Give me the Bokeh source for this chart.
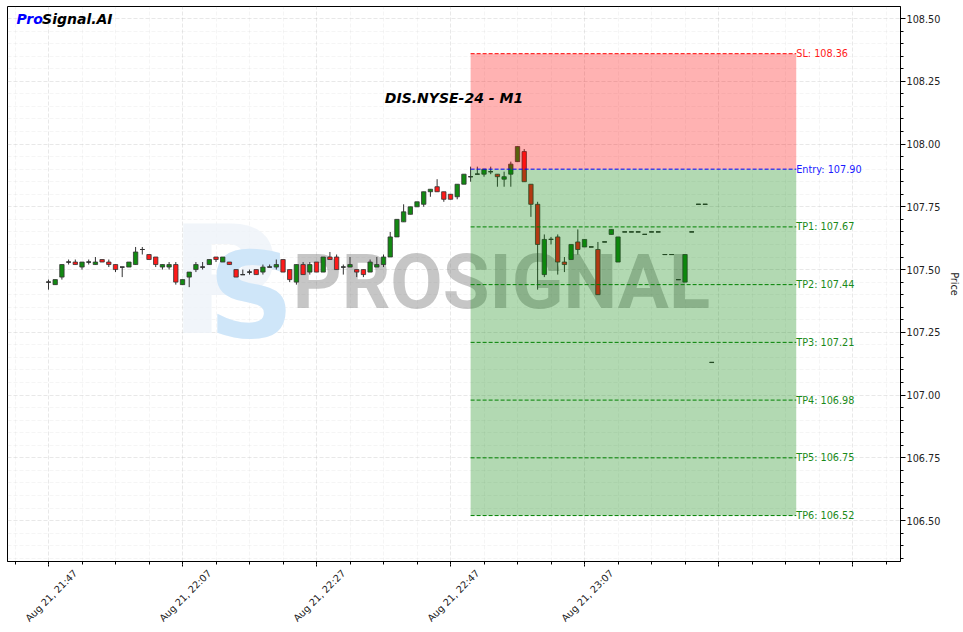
import numpy as np
import pandas as pd
from math import pi
from bokeh.plotting import figure
from bokeh.models import Range1d, FixedTicker, LinearAxis, PrintfTickFormatter
from bokeh.core.properties import value
from bokeh.embed import file_html
from bokeh.resources import INLINE

# ---------------- data ----------------
opens = [107.45, 107.44, 107.47, 107.53, 107.53, 107.51, 107.53, 107.52, 107.54, 107.53,
         107.52, 107.51, 107.51, 107.52, 107.58, 107.56, 107.55, 107.51, 107.51, 107.52,
         107.44, 107.47, 107.50, 107.51, 107.52, 107.55, 107.53, 107.53, 107.50, 107.48,
         107.49, 107.50, 107.49, 107.51, 107.51, 107.54, 107.50, 107.45, 107.52, 107.49,
         107.53, 107.49, 107.55, 107.55, 107.51, 107.51, 107.50, 107.50, 107.49, 107.51,
         107.52, 107.55, 107.63, 107.69, 107.72, 107.75, 107.76, 107.81, 107.83, 107.81,
         107.80, 107.79, 107.84, 107.87, 107.88, 107.88, 107.89, 107.88, 107.86, 107.88,
         107.93, 107.97, 107.84, 107.76, 107.48, 107.62, 107.63, 107.53, 107.54, 107.61,
         107.59, 107.59, 107.58, 107.61, 107.64, 107.53, 107.65, 107.65, 107.65, 107.64,
         107.65, 107.65, 107.56, 107.56, 107.46, 107.45, 107.65, 107.76, 107.76, 107.13]
highs = [107.46, 107.46, 107.52, 107.54, 107.54, 107.53, 107.54, 107.55, 107.54, 107.54,
         107.52, 107.51, 107.53, 107.59, 107.59, 107.56, 107.55, 107.52, 107.53, 107.53,
         107.46, 107.49, 107.53, 107.53, 107.54, 107.55, 107.55, 107.53, 107.50, 107.50,
         107.50, 107.50, 107.52, 107.52, 107.54, 107.54, 107.50, 107.52, 107.53, 107.53,
         107.53, 107.55, 107.57, 107.56, 107.52, 107.55, 107.50, 107.50, 107.54, 107.55,
         107.56, 107.65, 107.70, 107.76, 107.75, 107.77, 107.81, 107.82, 107.86, 107.81,
         107.80, 107.84, 107.88, 107.91, 107.91, 107.90, 107.91, 107.88, 107.89, 107.93,
         107.99, 107.98, 107.84, 107.77, 107.64, 107.63, 107.64, 107.55, 107.60, 107.66,
         107.62, 107.59, 107.61, 107.61, 107.66, 107.63, 107.65, 107.65, 107.65, 107.64,
         107.65, 107.65, 107.56, 107.56, 107.46, 107.56, 107.65, 107.76, 107.76, 107.13]
lows = [107.42, 107.44, 107.46, 107.52, 107.52, 107.50, 107.52, 107.52, 107.53, 107.51,
        107.49, 107.47, 107.51, 107.52, 107.56, 107.54, 107.51, 107.50, 107.50, 107.44,
        107.44, 107.43, 107.49, 107.50, 107.52, 107.53, 107.53, 107.52, 107.47, 107.48,
        107.48, 107.48, 107.48, 107.51, 107.50, 107.49, 107.45, 107.44, 107.48, 107.48,
        107.49, 107.49, 107.54, 107.50, 107.48, 107.51, 107.47, 107.47, 107.49, 107.51,
        107.51, 107.55, 107.63, 107.69, 107.72, 107.75, 107.75, 107.79, 107.81, 107.77,
        107.78, 107.78, 107.84, 107.85, 107.88, 107.87, 107.88, 107.83, 107.83, 107.83,
        107.93, 107.85, 107.71, 107.42, 107.47, 107.60, 107.48, 107.49, 107.54, 107.56,
        107.59, 107.59, 107.40, 107.61, 107.64, 107.53, 107.65, 107.65, 107.65, 107.64,
        107.65, 107.65, 107.56, 107.56, 107.46, 107.45, 107.65, 107.76, 107.76, 107.13]
closes = [107.45, 107.46, 107.52, 107.53, 107.52, 107.53, 107.53, 107.53, 107.53, 107.52,
          107.50, 107.51, 107.53, 107.57, 107.58, 107.54, 107.52, 107.52, 107.52, 107.45,
          107.46, 107.49, 107.52, 107.51, 107.54, 107.54, 107.55, 107.52, 107.47, 107.48,
          107.49, 107.48, 107.51, 107.51, 107.52, 107.49, 107.46, 107.52, 107.48, 107.52,
          107.49, 107.55, 107.54, 107.50, 107.51, 107.52, 107.49, 107.48, 107.53, 107.52,
          107.55, 107.63, 107.70, 107.73, 107.75, 107.77, 107.81, 107.82, 107.81, 107.78,
          107.78, 107.84, 107.88, 107.87, 107.88, 107.90, 107.89, 107.87, 107.87, 107.92,
          107.99, 107.85, 107.76, 107.60, 107.62, 107.62, 107.53, 107.52, 107.60, 107.58,
          107.62, 107.59, 107.40, 107.61, 107.66, 107.63, 107.65, 107.65, 107.65, 107.64,
          107.65, 107.65, 107.56, 107.56, 107.46, 107.56, 107.65, 107.76, 107.76, 107.13]

first_candle = "2024-08-21 21:47"
tick_times = ["2024-08-21 21:47", "2024-08-21 22:07", "2024-08-21 22:27", "2024-08-21 22:47",
              "2024-08-21 23:07", "2024-08-21 23:27", "2024-08-21 23:47"]
tick_labels = ["Aug 21, 21:47", "Aug 21, 22:07", "Aug 21, 22:27", "Aug 21, 22:47",
               "Aug 21, 23:07", "", ""]
price_ticks = [106.50, 106.75, 107.00, 107.25, 107.50, 107.75, 108.00, 108.25, 108.50]

signal_start = "2024-08-21 22:50"
signal_minutes = 48.6
level_names = ["SL", "Entry", "TP1", "TP2", "TP3", "TP4", "TP5", "TP6"]
level_values = [108.36, 107.90, 107.67, 107.44, 107.21, 106.98, 106.75, 106.52]
title_text = "DIS.NYSE-24 - M1"

# ---------------- helpers ----------------
origin = pd.Timestamp("2024-08-21 21:00")
def to_min(ts):
    return (pd.Timestamp(ts) - origin).total_seconds() / 60.0

times = pd.date_range(first_candle, periods=len(opens), freq="min")
xs = np.array([(t - origin).total_seconds() / 60.0 for t in times])
o = np.array(opens); h = np.array(highs); l = np.array(lows); c = np.array(closes)

X0, X1 = 40.88, 174.16
Y0, Y1 = 106.337, 108.548
FW, FH = 893, 555

FONT = value("DejaVu Sans")
p = figure(frame_width=FW, frame_height=FH, x_range=Range1d(X0, X1), y_range=Range1d(Y0, Y1),
           y_axis_location="right", output_backend="svg", toolbar_location=None,
           min_border_left=7, min_border_top=6, min_border_right=0, min_border_bottom=0,
           background_fill_color="white", border_fill_color="white",
           outline_line_color="black", outline_line_width=1)

major_x = [to_min(t) for t in tick_times]
minor_x = list(np.arange(major_x[0] - 5, X1, 5.0))

# axis A (next to frame): short tick marks every 5 minutes, no labels
ax_a = p.xaxis[0]
ax_a.ticker = FixedTicker(ticks=[], minor_ticks=minor_x)
ax_a.axis_line_color = "black"
ax_a.major_tick_out = 3
ax_a.major_tick_in = 0
ax_a.minor_tick_out = 3
ax_a.minor_tick_in = 0
ax_a.major_label_standoff = 0

# axis B: extends the 20-minute ticks and carries the rotated labels,
# centred under their ticks
px_per_min = FW / (X1 - X0)
shift = 27.0 / px_per_min
lab_ticks = [t + shift for t, lab in zip(major_x, tick_labels) if lab]
lab_text = [lab for lab in tick_labels if lab]
ax_b = LinearAxis(ticker=FixedTicker(ticks=lab_ticks, minor_ticks=major_x),
                  major_label_overrides={t: s for t, s in zip(lab_ticks, lab_text)},
                  major_label_orientation=pi / 4, major_label_standoff=5,
                  major_tick_out=0, major_tick_in=0, minor_tick_out=2, minor_tick_in=0,
                  minor_tick_line_color="black",
                  axis_line_color=None, major_label_text_font="DejaVu Sans",
                  major_label_text_font_size="9.7px", major_label_text_color="#222222")
p.add_layout(ax_b, "below")

minor_y = list(np.round(np.arange(106.35, 108.5001, 0.05), 2))
p.yaxis.ticker = FixedTicker(ticks=price_ticks, minor_ticks=minor_y)
p.yaxis.formatter = PrintfTickFormatter(format="%.2f")
p.yaxis.major_label_text_font = "DejaVu Sans"
p.yaxis.major_label_text_font_size = "9.7px"
p.yaxis.major_label_text_color = "#222222"
p.yaxis.major_label_standoff = 1
p.yaxis.axis_label = "Price"
p.yaxis.axis_label_text_font = "DejaVu Sans"
p.yaxis.axis_label_text_font_size = "9.7px"
p.yaxis.axis_label_text_font_style = "normal"
p.yaxis.axis_label_text_color = "#222222"
p.yaxis.axis_label_standoff = 6
p.yaxis.major_tick_out = 5
p.yaxis.major_tick_in = 0
p.yaxis.minor_tick_out = 3
p.yaxis.minor_tick_in = 0

p.xgrid.ticker = FixedTicker(ticks=major_x, minor_ticks=minor_x)
for g in (p.xgrid, p.ygrid):
    g.grid_line_color = "#b0b0b0"
    g.grid_line_alpha = 0.18
    g.grid_line_dash = "4 2"
    g.minor_grid_line_color = "#b0b0b0"
    g.minor_grid_line_alpha = 0.13
    g.minor_grid_line_dash = "4 2"

# ---------------- watermark ----------------
p.text(x=[X0 + 0.243 * (X1 - X0)], y=[Y0 + 0.505 * (Y1 - Y0)], text=["P"], text_font=FONT,
       text_font_style="bold", text_font_size="150px", text_color="#edf3f9", text_alpha=0.8,
       text_align="center", text_baseline="middle")
p.text(x=[X0 + 0.273 * (X1 - X0)], y=[Y0 + 0.479 * (Y1 - Y0)], text=["S"], text_font=FONT,
       text_font_style="bold", text_font_size="120px", text_color="#cfe6f9",
       text_align="center", text_baseline="middle")
p.text(x=[X0 + 0.553 * (X1 - X0)], y=[Y0 + 0.503 * (Y1 - Y0)], text=["PROSIGNAL"],
       text_font=value("Roboto"), text_font_style="bold", text_font_size="76px",
       text_color="#808080", text_alpha=0.45, text_align="center", text_baseline="middle")

# ---------------- candles ----------------
up = c >= o
body_col = np.where(up, "#128a12", "#ff1a1a")
p.segment(x0=xs, y0=h, x1=xs, y1=l, line_color="#333333", line_width=1)
p.vbar(x=xs, width=0.65, top=np.maximum(o, c), bottom=np.minimum(o, c),
       fill_color=list(body_col), line_color="#333333", line_width=0.8)
doji = o == c
p.segment(x0=xs[doji] - 0.33, y0=o[doji], x1=xs[doji] + 0.33, y1=c[doji],
          line_color="#333333", line_width=1.2)

# ---------------- signal box ----------------
bx0 = to_min(signal_start)
bx1 = bx0 + signal_minutes
sl, entry, tp_last = level_values[0], level_values[1], level_values[-1]
p.quad(left=[bx0], right=[bx1], bottom=[entry], top=[sl], fill_color="red",
       fill_alpha=0.3, line_color=None)
p.quad(left=[bx0], right=[bx1], bottom=[tp_last], top=[entry], fill_color="green",
       fill_alpha=0.3, line_color=None)

lvl_line_col = ["red", "blue"] + ["green"] * 6
lvl_text_col = ["#ff1a1a", "#1a1aff"] + ["#1a8a1a"] * 6
n = len(level_values)
p.segment(x0=[bx0] * n, y0=level_values, x1=[bx1] * n, y1=level_values,
          line_color=lvl_line_col, line_dash="4 2", line_width=1)
p.text(x=[bx1] * n, y=level_values,
       text=[f"{nm}: {v:.2f}" for nm, v in zip(level_names, level_values)],
       text_color=lvl_text_col, text_font=FONT, text_font_size="9.7px",
       text_align="left", text_baseline="middle")

# ---------------- titles ----------------
p.text(x=[(X0 + X1) / 2], y=[Y0 + 0.836 * (Y1 - Y0)], text=[title_text], text_font=FONT,
       text_font_style="bold italic", text_font_size="14px", text_color="black",
       text_align="center", text_baseline="middle")
p.text(x=[X0 + 0.0101 * (X1 - X0)], y=[Y0 + 0.978 * (Y1 - Y0)], text=["Pro"], text_font=FONT,
       text_font_style="bold italic", text_font_size="14px", text_color="#0000ff",
       text_align="left", text_baseline="middle")
p.text(x=[X0 + 0.0387 * (X1 - X0)], y=[Y0 + 0.978 * (Y1 - Y0)], text=["Signal.AI"], text_font=FONT,
       text_font_style="bold italic", text_font_size="14px", text_color="black",
       text_align="left", text_baseline="middle")

open("out.html", "w").write(file_html(p, INLINE, title="DIS.NYSE-24 - M1"))
